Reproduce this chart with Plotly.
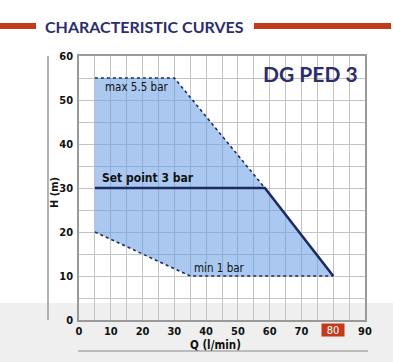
import plotly.graph_objects as go

# Data
area_q = [5, 30, 58.5, 80, 35, 5, 5]
area_h = [55, 55, 30, 10, 10, 20, 55]
max_q = [5, 30, 58.5]
max_h = [55, 55, 30]
min_q = [5, 35, 80]
min_h = [20, 10, 10]
set_q = [5, 58.5, 80]
set_h = [30, 30, 10]
x_ticks = [0, 10, 20, 30, 40, 50, 60, 70, 80, 90]
x_labels = ["0", "10", "20", "30", "40", "50", "60", "70", "", "90"]
y_ticks = [0, 10, 20, 30, 40, 50, 60]
y_labels = ["0", "10", "20", "30", "40", "50", "60"]

NAVY = "#1f2b5e"
TITLE = "#2c2e6c"
RED = "#c23a1a"
NARROW = "DejaVu Sans Condensed, Liberation Sans Narrow, Arial Narrow, sans-serif"

fig = go.Figure()
fig.add_trace(go.Scatter(x=area_q, y=area_h, fill="toself", mode="none",
                         fillcolor="rgba(100,155,228,0.55)", hoverinfo="skip"))
fig.add_trace(go.Scatter(x=max_q, y=max_h, mode="lines",
                         line=dict(color=NAVY, width=1.6, dash="dot")))
fig.add_trace(go.Scatter(x=min_q, y=min_h, mode="lines",
                         line=dict(color=NAVY, width=1.6, dash="dot")))
fig.add_trace(go.Scatter(x=set_q, y=set_h, mode="lines",
                         line=dict(color=NAVY, width=2.6)))

def px_x(p):
    return (p - 79) / 286

def px_y(p):
    return (320 - p) / 264

shapes = [
    dict(type="rect", xref="paper", yref="paper", x0=px_x(-5), x1=px_x(400),
         y0=px_y(303), y1=px_y(370), fillcolor="#efefef", line_width=0, layer="below"),
    dict(type="rect", xref="paper", yref="paper", x0=px_x(0), x1=px_x(36),
         y0=px_y(23), y1=px_y(29), fillcolor=RED, line_width=0),
    dict(type="rect", xref="paper", yref="paper", x0=px_x(254), x1=px_x(391),
         y0=px_y(23), y1=px_y(29), fillcolor=RED, line_width=0),
    dict(type="line", xref="paper", yref="paper", x0=px_x(48), x1=px_x(48),
         y0=px_y(56), y1=px_y(320), line=dict(color="#9a9a9a", width=1.5)),
    dict(type="line", xref="paper", yref="paper", x0=px_x(78), x1=px_x(368),
         y0=px_y(351), y1=px_y(351), line=dict(color="#8a8a8a", width=1.2)),
]

annotations = [
    dict(text="<b>CHARACTERISTIC CURVES</b>", xref="paper", yref="paper",
         x=px_x(43), y=px_y(26), xanchor="left", yanchor="middle", showarrow=False,
         font=dict(family="Lato, Open Sans, sans-serif", size=16, color=TITLE)),
    dict(text="<b>DG PED 3</b>", xref="paper", yref="paper",
         x=px_x(360), y=px_y(73), xanchor="right", yanchor="middle", showarrow=False,
         font=dict(family="Lato, Open Sans, sans-serif", size=21, color=TITLE)),
    dict(text="max 5.5 bar", x=7.5, y=53, xanchor="left", yanchor="middle", showarrow=False,
         font=dict(family=NARROW, size=11.5, color="#111111")),
    dict(text="<b>Set point 3 bar</b>", x=6.5, y=32.3, xanchor="left", yanchor="middle",
         showarrow=False, font=dict(family=NARROW, size=12, color="#111111")),
    dict(text="min 1 bar", x=35.5, y=11.8, xanchor="left", yanchor="middle", showarrow=False,
         font=dict(family=NARROW, size=11.5, color="#111111")),
    dict(text="80", x=80, xref="x", yref="paper", y=px_y(330), xanchor="center",
         yanchor="middle", showarrow=False, bgcolor=RED, borderpad=0,
         width=22, height=12,
         font=dict(family=NARROW, size=11, color="white")),
    dict(text="<b>Q (l/min)</b>", xref="paper", yref="paper", x=px_x(215), y=px_y(345),
         xanchor="center", yanchor="middle", showarrow=False,
         font=dict(family=NARROW, size=11.5, color="#111111")),
    dict(text="<b>H (m)</b>", xref="paper", yref="paper", x=px_x(54), y=px_y(193),
         xanchor="center", yanchor="middle", showarrow=False, textangle=-90,
         font=dict(family=NARROW, size=11, color="#111111")),
]

fig.update_layout(
    width=393, height=362,
    margin=dict(l=79, r=28, t=56, b=42),
    paper_bgcolor="white", plot_bgcolor="rgba(0,0,0,0)",
    showlegend=False,
    shapes=shapes, annotations=annotations,
    xaxis=dict(range=[0, 90], tickvals=x_ticks, ticktext=x_labels,
               showgrid=True, gridcolor="#c4c4c4", gridwidth=1,
               minor=dict(dtick=5, tick0=0, showgrid=True, gridcolor="#c4c4c4", gridwidth=1),
               showline=True, linecolor="#9a9a9a", linewidth=1.5, mirror=True,
               zeroline=False, ticks="", ticklabelstandoff=0,
               tickfont=dict(family=NARROW, size=11, color="#111111", weight="bold")),
    yaxis=dict(range=[0, 60], tickvals=y_ticks, ticktext=y_labels,
               showgrid=True, gridcolor="#c4c4c4", gridwidth=1,
               minor=dict(dtick=5, tick0=0, showgrid=True, gridcolor="#c4c4c4", gridwidth=1),
               showline=True, linecolor="#9a9a9a", linewidth=1.5, mirror=True,
               zeroline=False, ticks="", ticklabelstandoff=2,
               tickfont=dict(family=NARROW, size=11, color="#111111", weight="bold")),
)

fig.write_html("out.html", config={"displayModeBar": False},
               post_script="document.body.style.margin='0';document.body.style.padding='0';")
